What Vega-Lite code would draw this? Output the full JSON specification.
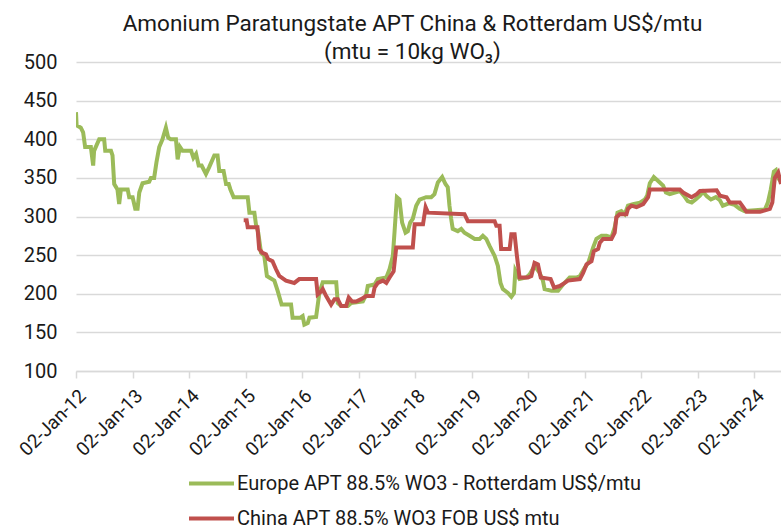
{
  "$schema": "https://vega.github.io/schema/vega-lite/v6.json",
  "width": 705,
  "height": 309,
  "autosize": {"type": "none"},
  "padding": {"left": 76, "top": 62, "right": 0, "bottom": 155},
  "background": "white",
  "title": {
    "text": ["Amonium Paratungstate APT China & Rotterdam US$/mtu", "(mtu = 10kg WO₃)"],
    "fontSize": 22.5,
    "fontWeight": "normal",
    "font": "Roboto",
    "color": "#1a1a1a",
    "anchor": "middle",
    "frame": "group",
    "dx": -16,
    "dy": 11,
    "lineHeight": 28,
    "offset": 0
  },
  "datasets": {
    "europe": [
      {"d":"2012-01-02","v":435},{"d":"2012-01-06","v":418},{"d":"2012-02-02","v":415},{"d":"2012-02-17","v":409},
      {"d":"2012-03-01","v":390},{"d":"2012-04-07","v":390},{"d":"2012-04-22","v":366},{"d":"2012-04-28","v":385},
      {"d":"2012-05-31","v":400},{"d":"2012-07-02","v":400},{"d":"2012-07-09","v":385},{"d":"2012-08-15","v":385},
      {"d":"2012-08-25","v":379},{"d":"2012-09-05","v":342},{"d":"2012-09-26","v":335},{"d":"2012-10-07","v":316},
      {"d":"2012-10-18","v":335},{"d":"2012-12-01","v":335},{"d":"2012-12-11","v":325},{"d":"2013-01-02","v":325},
      {"d":"2013-01-19","v":310},{"d":"2013-02-03","v":310},{"d":"2013-02-14","v":331},{"d":"2013-03-07","v":343},
      {"d":"2013-04-19","v":345},{"d":"2013-04-30","v":350},{"d":"2013-05-21","v":350},{"d":"2013-06-05","v":370},
      {"d":"2013-06-23","v":390},{"d":"2013-07-14","v":400},{"d":"2013-08-05","v":415},{"d":"2013-08-20","v":402},
      {"d":"2013-09-06","v":400},{"d":"2013-10-09","v":400},{"d":"2013-10-20","v":374},{"d":"2013-11-04","v":390},
      {"d":"2013-11-21","v":385},{"d":"2014-01-15","v":385},{"d":"2014-01-30","v":376},{"d":"2014-02-16","v":381},
      {"d":"2014-03-05","v":366},{"d":"2014-03-24","v":366},{"d":"2014-04-21","v":355},{"d":"2014-05-12","v":364},
      {"d":"2014-06-14","v":379},{"d":"2014-07-05","v":379},{"d":"2014-07-16","v":359},{"d":"2014-08-13","v":359},
      {"d":"2014-08-29","v":342},{"d":"2014-09-15","v":342},{"d":"2014-09-26","v":335},{"d":"2014-10-17","v":325},
      {"d":"2015-01-16","v":325},{"d":"2015-01-27","v":305},{"d":"2015-02-28","v":305},{"d":"2015-03-10","v":290},
      {"d":"2015-03-25","v":279},{"d":"2015-04-12","v":253},{"d":"2015-05-03","v":249},{"d":"2015-05-20","v":223},
      {"d":"2015-06-04","v":221},{"d":"2015-07-07","v":217},{"d":"2015-07-28","v":204},{"d":"2015-08-23","v":186},
      {"d":"2015-10-23","v":186},{"d":"2015-11-02","v":169},{"d":"2015-12-22","v":169},{"d":"2016-01-06","v":171},
      {"d":"2016-01-17","v":160},{"d":"2016-02-08","v":162},{"d":"2016-02-19","v":169},{"d":"2016-04-02","v":170},
      {"d":"2016-04-23","v":201},{"d":"2016-05-15","v":215},{"d":"2016-08-10","v":215},{"d":"2016-08-20","v":188},
      {"d":"2016-09-11","v":184},{"d":"2016-10-24","v":184},{"d":"2016-11-15","v":188},{"d":"2017-01-29","v":190},
      {"d":"2017-02-20","v":199},{"d":"2017-03-02","v":210},{"d":"2017-04-15","v":212},{"d":"2017-05-06","v":219},
      {"d":"2017-06-30","v":221},{"d":"2017-07-21","v":232},{"d":"2017-08-11","v":249},{"d":"2017-08-22","v":280},
      {"d":"2017-09-06","v":325},{"d":"2017-09-23","v":322},{"d":"2017-10-10","v":292},{"d":"2017-11-01","v":279},
      {"d":"2017-11-16","v":281},{"d":"2017-12-01","v":292},{"d":"2017-12-18","v":297},{"d":"2018-01-09","v":314},
      {"d":"2018-01-31","v":322},{"d":"2018-03-14","v":325},{"d":"2018-04-16","v":325},{"d":"2018-05-07","v":329},
      {"d":"2018-05-29","v":344},{"d":"2018-06-26","v":351},{"d":"2018-07-17","v":342},{"d":"2018-08-01","v":338},
      {"d":"2018-08-12","v":314},{"d":"2018-08-23","v":297},{"d":"2018-09-02","v":284},{"d":"2018-10-05","v":281},
      {"d":"2018-10-27","v":284},{"d":"2018-11-17","v":279},{"d":"2018-12-20","v":275},{"d":"2019-01-22","v":271},
      {"d":"2019-02-23","v":271},{"d":"2019-03-16","v":275},{"d":"2019-04-07","v":271},{"d":"2019-04-28","v":262},
      {"d":"2019-05-31","v":249},{"d":"2019-06-21","v":236},{"d":"2019-07-08","v":214},{"d":"2019-07-23","v":206},
      {"d":"2019-08-25","v":201},{"d":"2019-09-16","v":196},{"d":"2019-10-03","v":201},{"d":"2019-10-12","v":230},
      {"d":"2019-11-08","v":219},{"d":"2019-12-22","v":221},{"d":"2020-01-12","v":225},{"d":"2020-02-13","v":236},
      {"d":"2020-03-17","v":227},{"d":"2020-04-07","v":217},{"d":"2020-04-18","v":206},{"d":"2020-06-01","v":204},
      {"d":"2020-07-14","v":204},{"d":"2020-08-15","v":212},{"d":"2020-09-27","v":221},{"d":"2020-11-10","v":221},
      {"d":"2020-12-02","v":223},{"d":"2021-01-03","v":234},{"d":"2021-01-25","v":240},{"d":"2021-02-26","v":260},
      {"d":"2021-03-19","v":271},{"d":"2021-04-21","v":275},{"d":"2021-05-23","v":275},{"d":"2021-06-24","v":273},
      {"d":"2021-07-15","v":286},{"d":"2021-08-02","v":305},{"d":"2021-08-27","v":307},{"d":"2021-09-18","v":303},
      {"d":"2021-10-09","v":314},{"d":"2021-11-10","v":316},{"d":"2021-12-25","v":318},{"d":"2022-01-26","v":322},
      {"d":"2022-02-10","v":327},{"d":"2022-02-27","v":343},{"d":"2022-03-25","v":351},{"d":"2022-04-22","v":346},
      {"d":"2022-05-24","v":340},{"d":"2022-06-11","v":331},{"d":"2022-07-06","v":329},{"d":"2022-08-08","v":331},
      {"d":"2022-09-09","v":333},{"d":"2022-10-05","v":327},{"d":"2022-10-30","v":320},{"d":"2022-11-25","v":318},
      {"d":"2022-12-20","v":322},{"d":"2023-01-17","v":327},{"d":"2023-02-06","v":332},{"d":"2023-03-03","v":326},
      {"d":"2023-03-29","v":322},{"d":"2023-04-30","v":325},{"d":"2023-05-26","v":321},{"d":"2023-06-14","v":314},
      {"d":"2023-07-23","v":317},{"d":"2023-08-29","v":315},{"d":"2023-10-01","v":310},{"d":"2023-11-02","v":307},
      {"d":"2024-01-08","v":308},{"d":"2024-03-12","v":309},{"d":"2024-03-31","v":318},{"d":"2024-04-19","v":335},
      {"d":"2024-05-09","v":358},{"d":"2024-05-22","v":360},{"d":"2024-06-04","v":350},{"d":"2024-06-24","v":345}
    ],
    "china": [
      {"d":"2014-12-21","v":295},{"d":"2015-01-09","v":295},{"d":"2015-01-16","v":286},{"d":"2015-03-20","v":286},
      {"d":"2015-03-31","v":258},{"d":"2015-04-21","v":253},{"d":"2015-05-14","v":251},{"d":"2015-05-28","v":245},
      {"d":"2015-06-25","v":242},{"d":"2015-07-17","v":232},{"d":"2015-08-08","v":223},{"d":"2015-09-20","v":217},
      {"d":"2015-11-13","v":214},{"d":"2015-12-15","v":219},{"d":"2016-04-02","v":219},{"d":"2016-04-12","v":199},
      {"d":"2016-05-05","v":203},{"d":"2016-05-15","v":206},{"d":"2016-06-06","v":197},{"d":"2016-07-08","v":186},
      {"d":"2016-07-30","v":193},{"d":"2016-08-20","v":193},{"d":"2016-09-11","v":184},{"d":"2016-10-13","v":184},
      {"d":"2016-10-30","v":195},{"d":"2016-11-21","v":190},{"d":"2016-12-17","v":190},{"d":"2017-01-18","v":193},
      {"d":"2017-02-20","v":197},{"d":"2017-04-04","v":197},{"d":"2017-04-15","v":208},{"d":"2017-05-06","v":214},
      {"d":"2017-06-08","v":217},{"d":"2017-06-30","v":214},{"d":"2017-07-21","v":221},{"d":"2017-08-16","v":229},
      {"d":"2017-09-02","v":260},{"d":"2017-12-18","v":260},{"d":"2017-12-30","v":290},{"d":"2018-02-22","v":290},
      {"d":"2018-03-11","v":312},{"d":"2018-03-26","v":305},{"d":"2018-11-17","v":303},{"d":"2018-12-09","v":294},
      {"d":"2019-05-31","v":294},{"d":"2019-06-11","v":288},{"d":"2019-07-02","v":288},{"d":"2019-07-12","v":258},
      {"d":"2019-09-05","v":258},{"d":"2019-09-16","v":277},{"d":"2019-10-07","v":277},{"d":"2019-10-22","v":249},
      {"d":"2019-11-08","v":221},{"d":"2020-01-01","v":221},{"d":"2020-01-23","v":223},{"d":"2020-02-13","v":240},
      {"d":"2020-03-06","v":238},{"d":"2020-03-24","v":221},{"d":"2020-05-27","v":219},{"d":"2020-06-18","v":208},
      {"d":"2020-07-25","v":210},{"d":"2020-08-26","v":214},{"d":"2020-09-16","v":217},{"d":"2020-12-02","v":219},
      {"d":"2020-12-23","v":227},{"d":"2021-01-14","v":238},{"d":"2021-02-15","v":242},{"d":"2021-03-02","v":255},
      {"d":"2021-03-30","v":258},{"d":"2021-04-10","v":266},{"d":"2021-05-01","v":271},{"d":"2021-06-24","v":271},
      {"d":"2021-07-15","v":279},{"d":"2021-07-26","v":299},{"d":"2021-08-16","v":303},{"d":"2021-09-29","v":303},
      {"d":"2021-10-09","v":310},{"d":"2021-10-31","v":314},{"d":"2021-12-03","v":312},{"d":"2022-01-15","v":316},
      {"d":"2022-02-16","v":325},{"d":"2022-02-27","v":335},{"d":"2022-09-09","v":335},{"d":"2022-09-30","v":331},
      {"d":"2022-11-24","v":325},{"d":"2022-12-27","v":329},{"d":"2023-01-17","v":333},{"d":"2023-05-05","v":334},
      {"d":"2023-05-26","v":327},{"d":"2023-07-08","v":325},{"d":"2023-07-29","v":318},{"d":"2023-10-02","v":318},
      {"d":"2023-10-24","v":312},{"d":"2023-11-14","v":306},{"d":"2024-02-09","v":306},{"d":"2024-03-12","v":308},
      {"d":"2024-04-13","v":310},{"d":"2024-04-29","v":318},{"d":"2024-05-15","v":350},{"d":"2024-06-06","v":357},
      {"d":"2024-06-24","v":342}
    ]
  },
  "encoding": {
    "x": {
      "field": "d", "type": "temporal",
      "scale": {"domain": [{"year": 2012, "month": 1, "date": 2}, {"year": 2024, "month": 6, "date": 24}]},
      "axis": {
        "title": null,
        "values": [
          {"year": 2012, "month": 1, "date": 2}, {"year": 2013, "month": 1, "date": 2}, {"year": 2014, "month": 1, "date": 2},
          {"year": 2015, "month": 1, "date": 2}, {"year": 2016, "month": 1, "date": 2}, {"year": 2017, "month": 1, "date": 2},
          {"year": 2018, "month": 1, "date": 2}, {"year": 2019, "month": 1, "date": 2}, {"year": 2020, "month": 1, "date": 2},
          {"year": 2021, "month": 1, "date": 2}, {"year": 2022, "month": 1, "date": 2}, {"year": 2023, "month": 1, "date": 2},
          {"year": 2024, "month": 1, "date": 2}
        ],
        "format": "%d-%b-%y",
        "labelAngle": -45,
        "labelFontSize": 19,
        "grid": false,
        "domainColor": "#d9d9d9",
        "domainWidth": 1.5,
        "tickColor": "#d9d9d9",
        "tickWidth": 1.5,
        "tickSize": 7,
        "labelPadding": 8,
        "labelDx": 3,
        "labelFlush": false,
        "labelOverlap": false
      }
    },
    "y": {
      "field": "v", "type": "quantitative",
      "scale": {"domain": [100, 500], "nice": false, "zero": false},
      "axis": {
        "title": null,
        "values": [100, 150, 200, 250, 300, 350, 400, 450, 500],
        "grid": true,
        "gridColor": "#d9d9d9",
        "gridWidth": 1.5,
        "domain": false,
        "ticks": false,
        "labelPadding": 19
      }
    }
  },
  "layer": [
    {
      "data": {"name": "europe"},
      "mark": {"type": "line", "strokeWidth": 4, "clip": true},
      "encoding": {"color": {"datum": "Europe APT 88.5% WO3 - Rotterdam US$/mtu"}}
    },
    {
      "data": {"name": "china"},
      "mark": {"type": "line", "strokeWidth": 4, "clip": true},
      "encoding": {"color": {"datum": "China APT 88.5% WO3 FOB US$ mtu"}}
    }
  ],
  "resolve": {"scale": {"color": "shared"}},
  "config": {
    "font": "Roboto",
    "view": {"stroke": null},
    "axis": {"labelFont": "Roboto", "labelColor": "#1a1a1a", "labelFontSize": 20},
    "range": {"category": ["#9BBB59", "#C0504D"]},
    "legend": {
      "orient": "none",
      "legendX": 111,
      "legendY": 397,
      "title": null,
      "symbolType": "stroke",
      "symbolSize": 2025,
      "symbolStrokeWidth": 4,
      "labelFontSize": 20,
      "labelFont": "Roboto",
      "labelColor": "#1a1a1a",
      "labelOffset": 1,
      "rowPadding": -11,
      "labelLimit": 700
    }
  }
}
